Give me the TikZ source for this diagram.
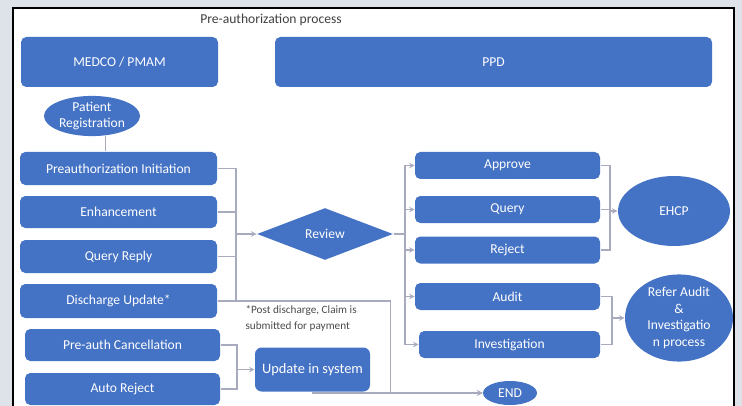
\documentclass[tikz,border=0pt]{standalone}
\usepackage{fontspec}
\setmainfont{Carlito}
\usetikzlibrary{shapes.geometric}

\definecolor{boxblue}{RGB}{68,114,196}
\definecolor{linegray}{RGB}{168,170,190}
\definecolor{pagegray}{RGB}{222,227,234}

\tikzset{every picture/.style={line width=0.75pt}}
\tikzset{
  box/.style={rectangle, rounded corners=4pt, fill=boxblue, text=white, inner sep=0pt,
    font=\fontsize{10.2}{12.5}\selectfont},
  oval/.style={ellipse, fill=boxblue, text=white, inner sep=0pt, align=center,
    font=\fontsize{10.2}{12.5}\selectfont},
  conn/.style={draw=linegray, line width=0.8pt},
  >=stealth
}

\begin{document}
\begin{tikzpicture}[x=0.75pt,y=0.75pt,yscale=-1,xscale=1]
\useasboundingbox (0,0) rectangle (742,406);

%Page and frame
\fill [pagegray] (0,0) rectangle (742,406);
\fill [white] (13,8) rectangle (734,406);
\draw [line width=1.5] (13,406) -- (13,8) -- (734,8) -- (734,406);

%Title
\node [text=black!75, font=\fontsize{10.2}{12}\selectfont] (title) at (271,20) {Pre-authorization process};

%Lanes
\node [box, minimum width=147.75pt, minimum height=37.5pt] (medco) at (119.5,62) {MEDCO / PMAM};
\node [box, minimum width=327.75pt, minimum height=37.5pt] (ppd) at (493.5,62) {PPD};

%Hospital side
\node [oval, minimum width=72pt, minimum height=28.5pt] (patreg) at (92,116) {Patient\\Registration};
\node [box, minimum width=147.75pt, minimum height=24.75pt] (preauth) at (118.5,168.5) {Preauthorization Initiation};
\node [box, minimum width=147.75pt, minimum height=24pt] (enhance) at (118.5,212) {Enhancement};
\node [box, minimum width=147.75pt, minimum height=24.75pt] (qreply) at (118.5,256.5) {Query Reply};
\node [box, minimum width=147.75pt, minimum height=25.5pt] (discharge) at (118.5,301) {Discharge Update*};
\node [box, minimum width=146.25pt, minimum height=24pt] (cancel) at (122.5,345) {Pre-auth Cancellation};
\node [box, minimum width=146.25pt, minimum height=24pt] (autorej) at (122.5,389) {Auto Reject};

%Review and system
\node [diamond, fill=boxblue, text=white, inner sep=0pt, minimum width=102pt, minimum height=39pt,
  font=\fontsize{10.2}{12}\selectfont] (review) at (325,234) {Review};
\node [box, rounded corners=5pt, minimum width=86.25pt, minimum height=33pt,
  font=\fontsize{10.8}{13}\selectfont] (update) at (312.5,369.5) {Update in system};
\node [text=black!70, align=left, anchor=north west, inner sep=0pt,
  font=\fontsize{8.4}{12}\selectfont] (note) at (245,305) {*Post discharge, Claim is\\submitted for payment};

%Payer side
\node [box, minimum width=138.75pt, minimum height=20.25pt] (approve) at (507.5,165.5) {Approve};
\node [box, minimum width=138.75pt, minimum height=20.25pt] (query) at (507.5,209.5) {Query};
\node [box, minimum width=138.75pt, minimum height=20.25pt] (reject) at (507.5,250) {Reject};
\node [box, minimum width=138.75pt, minimum height=20.25pt] (audit) at (507.5,296.5) {Audit};
\node [box, minimum width=135.75pt, minimum height=20.25pt] (invest) at (509.5,344.5) {Investigation};

\node [oval, minimum width=84pt, minimum height=52.5pt] (ehcp) at (674,211) {EHCP};
\node [oval, minimum width=81pt, minimum height=57pt] (refer) at (679,318) {Refer Audit\\\&\\Investigatio\\n process};
\node [oval, minimum width=40.5pt, minimum height=18pt] (endn) at (510,393) {END};

%Junction points
\coordinate (jl) at (236,234);
\coordinate (jc) at (237,369.5);
\coordinate (jr) at (405,234);
\coordinate (je) at (610,211);
\coordinate (ja) at (612,318);

%Connectors
\draw [conn] (patreg.-55) -- (patreg.-55 |- preauth.north);
\foreach \n in {preauth,enhance,qreply,discharge}
  \draw [conn] (\n.east) -| (jl);
\draw [conn,->] (jl) -- (review.west);
\draw [conn,->] (discharge.east) -- ++(173,0) |- (endn.west);

\draw [conn] (cancel.east) -| (jc);
\draw [conn] (autorej.east) -| (jc);
\draw [conn,->] (jc) -- (update.west);
\draw [conn,->] (update.south) |- (endn.west);

\draw [conn] (review.east) -- (jr);
\foreach \n in {approve,query,reject,audit,invest}
  \draw [conn,->] (jr) |- (\n.west);

\foreach \n in {approve,query,reject}
  \draw [conn] (\n.east) -| (je);
\draw [conn,->] (je) -- (ehcp.west);
\draw [conn] (audit.east) -| (ja);
\draw [conn] (invest.east) -| (ja);
\draw [conn,->] (ja) -- (refer.west);

\end{tikzpicture}
\end{document}
